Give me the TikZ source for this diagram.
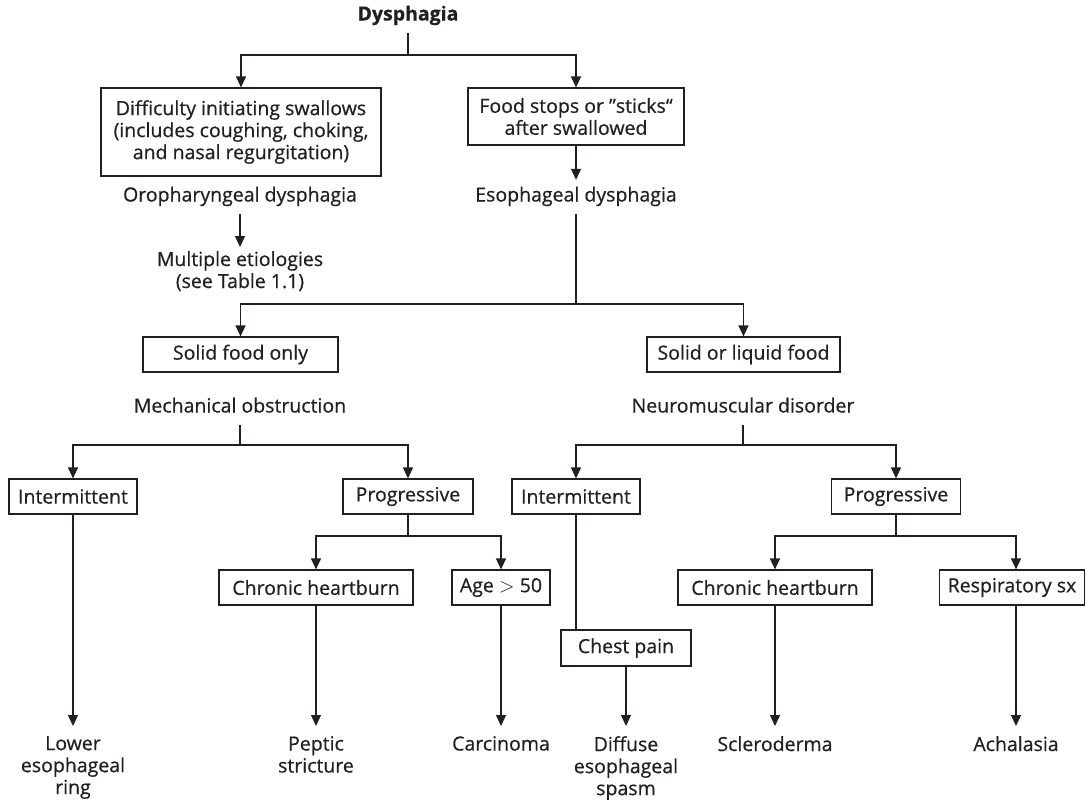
\documentclass[tikz,border=0pt]{standalone}
\usepackage{fontspec}
\setmainfont{Open Sans}[FakeBold=0.6]
\usetikzlibrary{arrows.meta}
\definecolor{ink}{HTML}{231F20}
\begin{document}
\begin{tikzpicture}[x=1pt,y=-1pt,
  every node/.style={font=\fontsize{19.5}{22}\selectfont, text=ink},
  box/.style={draw=ink, line width=1.2pt, minimum height=35pt, inner sep=0pt, align=center},
  lbl/.style={inner xsep=0pt, inner ysep=7.5pt, text height=14pt, text depth=5pt},
  multi/.style={align=center, inner xsep=0pt, inner ysep=4pt, anchor=north},
  ln/.style={draw=ink, line width=1.2pt},
  arr/.style={-{Triangle[length=11pt,width=10pt]}}
]
\useasboundingbox (0,0) rectangle (1089,801);

% level 1
\node[lbl, font=\fontsize{19.5}{22}\selectfont\bfseries] (dys) at (408,16) {Dysphagia};
\coordinate (j1) at (408,55);
\node[box, minimum width=280pt, minimum height=88pt] (b1) at (241,132) {Difficulty initiating swallows\\(includes coughing, choking,\\and nasal regurgitation)};
\node[box, minimum width=216pt, minimum height=57pt] (b2) at (576,116.5) {Food stops or ”sticks“\\after swallowed};
\node[lbl] (oro) at (240,197) {Oropharyngeal dysphagia};
\node[lbl] (eso) at (576,197) {Esophageal dysphagia};
\node[multi] (mult) at (240,247) {Multiple etiologies\\(see Table 1.1)};

% level 2
\coordinate (j2) at (576,304);
\node[box, minimum width=195pt] (sfo) at (240.5,354.5) {Solid food only};
\node[box, minimum width=193pt] (slf) at (743.5,354.5) {Solid or liquid food};
\node[lbl] (mech) at (240,408) {Mechanical obstruction};
\node[lbl] (neuro) at (743,408) {Neuromuscular disorder};

% level 3
\coordinate (j3) at (240,445);
\coordinate (j4) at (743,445);
\node[box, minimum width=128pt] (int1) at (73,496.5) {Intermittent};
\node[box, minimum width=130pt] (prog1) at (408,496.5) {Progressive};
\node[box, minimum width=128pt] (int2) at (576,496.5) {Intermittent};
\node[box, minimum width=129pt] (prog2) at (896,496.5) {Progressive};

% level 4
\coordinate (j5) at (408,536);
\coordinate (j6) at (896,536);
\node[box, minimum width=194pt] (ch1) at (316,587.5) {Chronic heartburn};
\node[box, minimum width=98pt] (age) at (501,587.5) {Age $>$ 50};
\node[box, minimum width=194pt] (ch2) at (775,587.5) {Chronic heartburn};
\node[box, minimum width=145pt] (resp) at (1012,587.5) {Respiratory sx};
\node[box, minimum width=130pt, minimum height=36pt] (chest) at (626,648) {Chest pain};

% outcomes
\node[multi, inner ysep=10pt] (ring) at (73,726) {Lower\\esophageal\\ring};
\node[multi, inner ysep=10pt] (pep) at (316,726) {Peptic\\stricture};
\node[multi, inner ysep=10pt] (carc) at (501,726) {Carcinoma};
\node[multi, inner ysep=10pt] (des) at (626,726) {Diffuse\\esophageal\\spasm};
\node[multi, inner ysep=10pt] (scl) at (775,726) {Scleroderma};
\node[multi, inner ysep=10pt] (ach) at (1016,726) {Achalasia};

% connectors
\draw[ln] (dys) -- (j1);
\draw[ln,arr] (j1) -| (b1);
\draw[ln,arr] (j1) -| (b2);
\draw[ln,arr] (b2) -- (eso);
\draw[ln,arr] (oro) -- (mult);
\draw[ln] (eso) -- (j2);
\draw[ln,arr] (j2) -| (sfo);
\draw[ln,arr] (j2) -| (slf);
\draw[ln] (mech) -- (j3);
\draw[ln,arr] (j3) -| (int1);
\draw[ln,arr] (j3) -| (prog1);
\draw[ln] (neuro) -- (j4);
\draw[ln,arr] (j4) -| (int2);
\draw[ln,arr] (j4) -| (prog2);
\draw[ln] (prog1) -- (j5);
\draw[ln,arr] (j5) -| (ch1);
\draw[ln,arr] (j5) -| (age);
\draw[ln] (prog2) -- (j6);
\draw[ln,arr] (j6) -| (ch2);
\draw[ln,arr] (j6) -| ([xshift=4pt]resp.north);
\draw[ln,arr] (int1) -- (ring);
\draw[ln,arr] (ch1) -- (pep);
\draw[ln,arr] (age) -- (carc);
\draw[ln] (int2) -- (int2 |- chest.north);
\draw[ln,arr] (chest) -- (des);
\draw[ln,arr] (ch2) -- (scl);
\draw[ln,arr] ([xshift=4pt]resp.south) -- (ach);
\end{tikzpicture}
\end{document}
